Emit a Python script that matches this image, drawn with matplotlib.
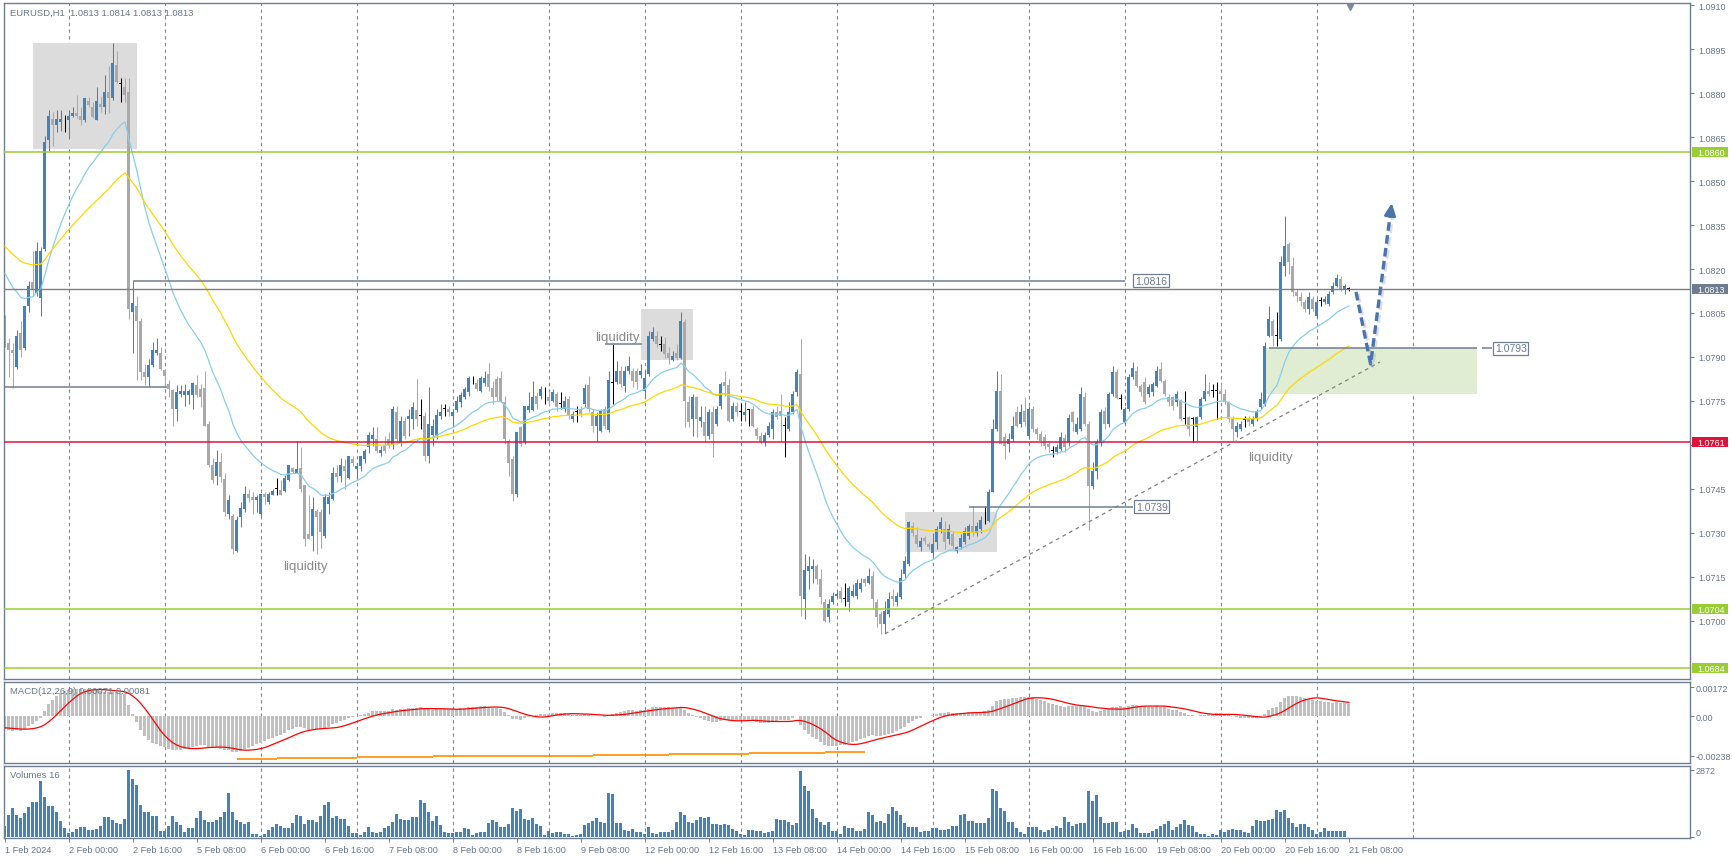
import numpy as np
import matplotlib
matplotlib.use("Agg")
import matplotlib.pyplot as plt
from matplotlib.patches import Rectangle
from matplotlib.transforms import IdentityTransform
import matplotlib.patheffects as pe

plt.rcParams['font.family'] = ['Liberation Sans', 'DejaVu Sans']

# EURUSD H1, bars from 1 Feb 2024 08:00 to 21 Feb 2024 08:00
opens = [
    1.08013, 1.07947, 1.07924, 1.07866, 1.07983, 1.07929, 1.08073, 1.08154, 1.08119, 1.08100,
    1.08269, 1.08641, 1.08713, 1.08690, 1.08701, 1.08703, 1.08709, 1.08721, 1.08732, 1.08721,
    1.08709, 1.08773, 1.08753, 1.08709, 1.08762, 1.08751, 1.08805, 1.08782, 1.08894, 1.08831,
    1.08820, 1.08805, 1.08053, 1.08073, 1.08021, 1.07849, 1.07832, 1.07872, 1.07912, 1.07912,
    1.07855, 1.07808, 1.07786, 1.07722, 1.07774, 1.07771, 1.07771, 1.07771, 1.07806, 1.07791,
    1.07795, 1.07673, 1.07532, 1.07495, 1.07541, 1.07484, 1.07365, 1.07359, 1.07238, 1.07353,
    1.07382, 1.07434, 1.07423, 1.07411, 1.07365, 1.07434, 1.07405, 1.07431, 1.07451, 1.07446,
    1.07442, 1.07482, 1.07520, 1.07503, 1.07520, 1.07463, 1.07296, 1.07290, 1.07376, 1.07371,
    1.07290, 1.07400, 1.07417, 1.07503, 1.07495, 1.07529, 1.07489, 1.07552, 1.07517, 1.07529,
    1.07552, 1.07592, 1.07620, 1.07622, 1.07571, 1.07597, 1.07622, 1.07600, 1.07711, 1.07606,
    1.07682, 1.07688, 1.07690, 1.07720, 1.07700, 1.07700, 1.07563, 1.07634, 1.07631, 1.07700,
    1.07722, 1.07722, 1.07700, 1.07720, 1.07745, 1.07762, 1.07779, 1.07813, 1.07811, 1.07785,
    1.07811, 1.07842, 1.07793, 1.07825, 1.07830, 1.07745, 1.07614, 1.07552, 1.07432, 1.07660,
    1.07609, 1.07720, 1.07720, 1.07768, 1.07768, 1.07762, 1.07765, 1.07750, 1.07774, 1.07739,
    1.07722, 1.07756, 1.07690, 1.07713, 1.07722, 1.07739, 1.07805, 1.07711, 1.07663, 1.07648,
    1.07722, 1.07652, 1.07811, 1.07813, 1.07853, 1.07802, 1.07853, 1.07853, 1.07853, 1.07838,
    1.07785, 1.07842, 1.07963, 1.07972, 1.07940, 1.07944, 1.07913, 1.07890, 1.07913, 1.07898,
    1.08018, 1.07745, 1.07688, 1.07762, 1.07683, 1.07677, 1.07631, 1.07711, 1.07671, 1.07734,
    1.07813, 1.07805, 1.07688, 1.07734, 1.07713, 1.07702, 1.07720, 1.07722, 1.07654, 1.07631,
    1.07609, 1.07634, 1.07654, 1.07711, 1.07717, 1.07665, 1.07654, 1.07711, 1.07780, 1.07842,
    1.07074, 1.07171, 1.07176, 1.07186, 1.07143, 1.07063, 1.07012, 1.07063, 1.07084, 1.07103,
    1.07074, 1.07063, 1.07086, 1.07086, 1.07108, 1.07143, 1.07131, 1.07154, 1.07063, 1.07023,
    1.06989, 1.07023, 1.07086, 1.07063, 1.07080, 1.07159, 1.07194, 1.07324, 1.07293, 1.07251,
    1.07282, 1.07262, 1.07233, 1.07268, 1.07313, 1.07313, 1.07279, 1.07296, 1.07239, 1.07251,
    1.07268, 1.07290, 1.07324, 1.07301, 1.07313, 1.07353, 1.07341, 1.07438, 1.07654, 1.07785,
    1.07626, 1.07603, 1.07622, 1.07711, 1.07671, 1.07717, 1.07632, 1.07723, 1.07654, 1.07637,
    1.07626, 1.07603, 1.07580, 1.07575, 1.07586, 1.07623, 1.07609, 1.07711, 1.07643, 1.07654,
    1.07762, 1.07671, 1.07461, 1.07512, 1.07609, 1.07717, 1.07671, 1.07774, 1.07850, 1.07757,
    1.07677, 1.07723, 1.07831, 1.07853, 1.07802, 1.07814, 1.07774, 1.07779, 1.07802, 1.07859,
    1.07819, 1.07762, 1.07762, 1.07745, 1.07751, 1.07690, 1.07694, 1.07690, 1.07660, 1.07694,
    1.07757, 1.07785, 1.07785, 1.07785, 1.07785, 1.07774, 1.07745, 1.07688, 1.07643, 1.07654,
    1.07686, 1.07688, 1.07671, 1.07688, 1.07728, 1.07740, 1.07973, 1.08024, 1.07973, 1.07961,
    1.08211, 1.08285, 1.08211, 1.08120, 1.08103, 1.08086, 1.08063, 1.08097, 1.08041, 1.08092,
    1.08086, 1.08080, 1.08120, 1.08143, 1.08166, 1.08131, 1.08131]
highs = [
    1.08044, 1.07964, 1.07947, 1.07993, 1.08021, 1.08073, 1.08160, 1.08263, 1.08292, 1.08275,
    1.08652, 1.08742, 1.08736, 1.08742, 1.08742, 1.08724, 1.08742, 1.08753, 1.08793, 1.08753,
    1.08782, 1.08788, 1.08770, 1.08820, 1.08788, 1.08862, 1.08891, 1.08972, 1.08943, 1.08851,
    1.08851, 1.08851, 1.08160, 1.08108, 1.08033, 1.07877, 1.07894, 1.07952, 1.07964, 1.07935,
    1.07860, 1.07820, 1.07791, 1.07803, 1.07803, 1.07808, 1.07790, 1.07814, 1.07840, 1.07808,
    1.07852, 1.07682, 1.07555, 1.07584, 1.07572, 1.07503, 1.07428, 1.07365, 1.07359, 1.07405,
    1.07461, 1.07451, 1.07438, 1.07428, 1.07434, 1.07440, 1.07440, 1.07451, 1.07486, 1.07482,
    1.07497, 1.07532, 1.07526, 1.07612, 1.07592, 1.07463, 1.07428, 1.07423, 1.07382, 1.07382,
    1.07434, 1.07438, 1.07526, 1.07532, 1.07555, 1.07552, 1.07563, 1.07563, 1.07540, 1.07563,
    1.07586, 1.07643, 1.07660, 1.07660, 1.07597, 1.07631, 1.07643, 1.07734, 1.07734, 1.07700,
    1.07694, 1.07722, 1.07745, 1.07825, 1.07756, 1.07711, 1.07796, 1.07688, 1.07722, 1.07739,
    1.07739, 1.07734, 1.07722, 1.07768, 1.07779, 1.07796, 1.07836, 1.07836, 1.07825, 1.07836,
    1.07853, 1.07880, 1.07819, 1.07836, 1.07853, 1.07768, 1.07620, 1.07563, 1.07643, 1.07665,
    1.07734, 1.07779, 1.07819, 1.07779, 1.07802, 1.07796, 1.07785, 1.07790, 1.07779, 1.07779,
    1.07768, 1.07768, 1.07717, 1.07734, 1.07734, 1.07808, 1.07836, 1.07722, 1.07711, 1.07722,
    1.07734, 1.07853, 1.07944, 1.07887, 1.07870, 1.07870, 1.07904, 1.07864, 1.07864, 1.07876,
    1.07853, 1.07990, 1.08002, 1.07990, 1.07972, 1.07967, 1.07933, 1.07921, 1.07944, 1.08052,
    1.08030, 1.07768, 1.07774, 1.07768, 1.07734, 1.07734, 1.07722, 1.07734, 1.07734, 1.07813,
    1.07853, 1.07825, 1.07745, 1.07745, 1.07742, 1.07745, 1.07722, 1.07734, 1.07660, 1.07643,
    1.07643, 1.07677, 1.07722, 1.07734, 1.07774, 1.07694, 1.07745, 1.07785, 1.07859, 1.07961,
    1.07228, 1.07222, 1.07211, 1.07194, 1.07176, 1.07074, 1.07074, 1.07097, 1.07103, 1.07114,
    1.07131, 1.07120, 1.07125, 1.07143, 1.07148, 1.07148, 1.07182, 1.07171, 1.07074, 1.07034,
    1.07069, 1.07097, 1.07108, 1.07097, 1.07176, 1.07222, 1.07341, 1.07336, 1.07319, 1.07285,
    1.07290, 1.07268, 1.07301, 1.07324, 1.07353, 1.07341, 1.07330, 1.07307, 1.07256, 1.07296,
    1.07319, 1.07330, 1.07393, 1.07336, 1.07359, 1.07393, 1.07450, 1.07688, 1.07853, 1.07842,
    1.07640, 1.07640, 1.07700, 1.07734, 1.07740, 1.07762, 1.07734, 1.07734, 1.07660, 1.07649,
    1.07637, 1.07615, 1.07597, 1.07603, 1.07643, 1.07637, 1.07705, 1.07717, 1.07694, 1.07796,
    1.07779, 1.07683, 1.07541, 1.07620, 1.07723, 1.07728, 1.07779, 1.07870, 1.07859, 1.07774,
    1.07728, 1.07842, 1.07882, 1.07870, 1.07808, 1.07831, 1.07808, 1.07814, 1.07870, 1.07882,
    1.07825, 1.07774, 1.07768, 1.07785, 1.07757, 1.07785, 1.07700, 1.07694, 1.07700, 1.07762,
    1.07842, 1.07814, 1.07808, 1.07814, 1.07808, 1.07791, 1.07751, 1.07700, 1.07677, 1.07683,
    1.07700, 1.07700, 1.07700, 1.07723, 1.07779, 1.07950, 1.08075, 1.08029, 1.08052, 1.08245,
    1.08382, 1.08291, 1.08240, 1.08131, 1.08120, 1.08097, 1.08120, 1.08109, 1.08097, 1.08103,
    1.08109, 1.08126, 1.08154, 1.08183, 1.08177, 1.08148, 1.08137]
lows = [
    1.07935, 1.07832, 1.07795, 1.07860, 1.07901, 1.07924, 1.08053, 1.08108, 1.08108, 1.08041,
    1.08261, 1.08601, 1.08621, 1.08667, 1.08672, 1.08667, 1.08644, 1.08718, 1.08716, 1.08690,
    1.08701, 1.08753, 1.08716, 1.08709, 1.08736, 1.08730, 1.08732, 1.08776, 1.08834, 1.08770,
    1.08770, 1.08030, 1.07912, 1.07820, 1.07820, 1.07803, 1.07797, 1.07866, 1.07906, 1.07855,
    1.07797, 1.07762, 1.07664, 1.07682, 1.07762, 1.07733, 1.07740, 1.07722, 1.07762, 1.07728,
    1.07664, 1.07526, 1.07469, 1.07463, 1.07474, 1.07359, 1.07348, 1.07227, 1.07235, 1.07319,
    1.07371, 1.07405, 1.07365, 1.07371, 1.07359, 1.07400, 1.07400, 1.07428, 1.07431, 1.07428,
    1.07440, 1.07478, 1.07503, 1.07503, 1.07440, 1.07255, 1.07278, 1.07238, 1.07227, 1.07250,
    1.07284, 1.07365, 1.07411, 1.07474, 1.07474, 1.07449, 1.07483, 1.07529, 1.07483, 1.07512,
    1.07540, 1.07574, 1.07597, 1.07574, 1.07563, 1.07574, 1.07591, 1.07586, 1.07603, 1.07597,
    1.07620, 1.07631, 1.07654, 1.07665, 1.07654, 1.07546, 1.07540, 1.07597, 1.07620, 1.07688,
    1.07700, 1.07700, 1.07660, 1.07711, 1.07731, 1.07756, 1.07768, 1.07808, 1.07785, 1.07779,
    1.07802, 1.07785, 1.07739, 1.07750, 1.07745, 1.07603, 1.07495, 1.07410, 1.07421, 1.07597,
    1.07603, 1.07711, 1.07717, 1.07722, 1.07756, 1.07739, 1.07734, 1.07745, 1.07717, 1.07722,
    1.07711, 1.07688, 1.07677, 1.07677, 1.07694, 1.07728, 1.07711, 1.07643, 1.07609, 1.07643,
    1.07654, 1.07643, 1.07739, 1.07808, 1.07796, 1.07779, 1.07842, 1.07796, 1.07790, 1.07830,
    1.07768, 1.07836, 1.07955, 1.07933, 1.07921, 1.07898, 1.07876, 1.07887, 1.07890, 1.07893,
    1.07660, 1.07660, 1.07631, 1.07626, 1.07660, 1.07609, 1.07620, 1.07558, 1.07665, 1.07722,
    1.07768, 1.07677, 1.07683, 1.07700, 1.07683, 1.07683, 1.07663, 1.07660, 1.07620, 1.07603,
    1.07597, 1.07626, 1.07620, 1.07688, 1.07609, 1.07558, 1.07648, 1.07705, 1.07768, 1.07017,
    1.07006, 1.07108, 1.07131, 1.07125, 1.07057, 1.06995, 1.06995, 1.07057, 1.07080, 1.07063,
    1.07052, 1.07034, 1.07080, 1.07074, 1.07097, 1.07120, 1.07125, 1.07040, 1.06978, 1.06955,
    1.06960, 1.07012, 1.07052, 1.07052, 1.07074, 1.07148, 1.07188, 1.07290, 1.07251, 1.07239,
    1.07262, 1.07245, 1.07222, 1.07245, 1.07301, 1.07245, 1.07262, 1.07245, 1.07233, 1.07245,
    1.07262, 1.07279, 1.07290, 1.07290, 1.07301, 1.07330, 1.07336, 1.07438, 1.07648, 1.07603,
    1.07552, 1.07575, 1.07609, 1.07660, 1.07660, 1.07666, 1.07620, 1.07643, 1.07620, 1.07597,
    1.07586, 1.07575, 1.07558, 1.07569, 1.07580, 1.07575, 1.07597, 1.07649, 1.07637, 1.07649,
    1.07666, 1.07310, 1.07450, 1.07484, 1.07597, 1.07654, 1.07660, 1.07768, 1.07757, 1.07723,
    1.07671, 1.07717, 1.07825, 1.07796, 1.07768, 1.07740, 1.07762, 1.07768, 1.07796, 1.07814,
    1.07768, 1.07734, 1.07720, 1.07734, 1.07683, 1.07671, 1.07632, 1.07609, 1.07615, 1.07688,
    1.07751, 1.07768, 1.07762, 1.07688, 1.07757, 1.07740, 1.07677, 1.07615, 1.07626, 1.07649,
    1.07660, 1.07666, 1.07666, 1.07683, 1.07723, 1.07734, 1.07967, 1.07939, 1.07939, 1.07956,
    1.08177, 1.08183, 1.08109, 1.08086, 1.08075, 1.08052, 1.08046, 1.08058, 1.08035, 1.08075,
    1.08080, 1.08075, 1.08114, 1.08137, 1.08126, 1.08114, 1.08126]
closes = [
    1.07947, 1.07924, 1.07912, 1.07972, 1.07924, 1.08073, 1.08142, 1.08131, 1.08261, 1.08261,
    1.08632, 1.08721, 1.08690, 1.08713, 1.08713, 1.08703, 1.08721, 1.08732, 1.08721, 1.08709,
    1.08782, 1.08759, 1.08718, 1.08773, 1.08751, 1.08805, 1.08782, 1.08903, 1.08839, 1.08831,
    1.08793, 1.08062, 1.08083, 1.08021, 1.07849, 1.07832, 1.07872, 1.07924, 1.07924, 1.07860,
    1.07834, 1.07791, 1.07722, 1.07780, 1.07783, 1.07783, 1.07783, 1.07811, 1.07771, 1.07762,
    1.07664, 1.07532, 1.07482, 1.07541, 1.07492, 1.07373, 1.07411, 1.07244, 1.07345, 1.07385,
    1.07434, 1.07419, 1.07411, 1.07423, 1.07434, 1.07423, 1.07434, 1.07442, 1.07451, 1.07431,
    1.07486, 1.07532, 1.07509, 1.07518, 1.07451, 1.07281, 1.07281, 1.07382, 1.07353, 1.07302,
    1.07423, 1.07423, 1.07503, 1.07492, 1.07532, 1.07512, 1.07563, 1.07540, 1.07529, 1.07563,
    1.07580, 1.07634, 1.07634, 1.07580, 1.07583, 1.07580, 1.07600, 1.07722, 1.07622, 1.07682,
    1.07631, 1.07700, 1.07731, 1.07690, 1.07700, 1.07563, 1.07671, 1.07665, 1.07702, 1.07711,
    1.07722, 1.07711, 1.07711, 1.07750, 1.07770, 1.07790, 1.07827, 1.07813, 1.07790, 1.07830,
    1.07830, 1.07796, 1.07762, 1.07762, 1.07745, 1.07620, 1.07540, 1.07432, 1.07643, 1.07603,
    1.07734, 1.07734, 1.07762, 1.07739, 1.07790, 1.07762, 1.07750, 1.07779, 1.07728, 1.07739,
    1.07750, 1.07700, 1.07705, 1.07713, 1.07705, 1.07793, 1.07722, 1.07663, 1.07700, 1.07717,
    1.07665, 1.07823, 1.07811, 1.07853, 1.07808, 1.07853, 1.07870, 1.07819, 1.07813, 1.07853,
    1.07830, 1.07972, 1.07985, 1.07944, 1.07940, 1.07910, 1.07898, 1.07904, 1.07898, 1.08024,
    1.07750, 1.07680, 1.07762, 1.07688, 1.07694, 1.07631, 1.07711, 1.07637, 1.07722, 1.07808,
    1.07802, 1.07683, 1.07734, 1.07711, 1.07713, 1.07711, 1.07720, 1.07665, 1.07631, 1.07609,
    1.07634, 1.07665, 1.07711, 1.07697, 1.07700, 1.07665, 1.07711, 1.07774, 1.07848, 1.07086,
    1.07174, 1.07188, 1.07188, 1.07143, 1.07080, 1.07000, 1.07057, 1.07086, 1.07091, 1.07074,
    1.07074, 1.07111, 1.07103, 1.07131, 1.07131, 1.07131, 1.07154, 1.07074, 1.07012, 1.06989,
    1.07034, 1.07074, 1.07074, 1.07086, 1.07148, 1.07205, 1.07336, 1.07301, 1.07262, 1.07274,
    1.07274, 1.07251, 1.07262, 1.07313, 1.07336, 1.07268, 1.07313, 1.07256, 1.07251, 1.07282,
    1.07307, 1.07324, 1.07301, 1.07324, 1.07344, 1.07353, 1.07438, 1.07654, 1.07785, 1.07603,
    1.07597, 1.07622, 1.07665, 1.07665, 1.07714, 1.07677, 1.07723, 1.07654, 1.07637, 1.07615,
    1.07597, 1.07592, 1.07580, 1.07592, 1.07626, 1.07592, 1.07691, 1.07677, 1.07671, 1.07774,
    1.07671, 1.07461, 1.07512, 1.07609, 1.07711, 1.07671, 1.07774, 1.07850, 1.07760, 1.07757,
    1.07723, 1.07831, 1.07861, 1.07802, 1.07779, 1.07745, 1.07796, 1.07808, 1.07853, 1.07819,
    1.07774, 1.07745, 1.07734, 1.07774, 1.07688, 1.07690, 1.07654, 1.07690, 1.07694, 1.07757,
    1.07785, 1.07774, 1.07785, 1.07785, 1.07774, 1.07745, 1.07688, 1.07654, 1.07666, 1.07671,
    1.07686, 1.07677, 1.07688, 1.07717, 1.07757, 1.07939, 1.08029, 1.07973, 1.07973, 1.08223,
    1.08279, 1.08223, 1.08120, 1.08109, 1.08092, 1.08063, 1.08103, 1.08063, 1.08086, 1.08092,
    1.08097, 1.08114, 1.08143, 1.08171, 1.08131, 1.08143, 1.08131]
volumes = [
    486, 943, 1243, 943, 800, 1029, 1300, 1486, 1486, 2386,
    1729, 1343, 1343, 1057, 700, 372, 171, 229, 343, 429,
    429, 300, 300, 343, 457, 843, 843, 743, 600, 572,
    772, 2872, 2486, 2243, 1372, 1057, 1057, 915, 886, 257,
    257, 486, 886, 657, 515, 229, 400, 400, 800, 1100,
    743, 629, 629, 743, 857, 1057, 1886, 1057, 743, 629,
    557, 629, 143, 143, 57, 143, 300, 429, 557, 457,
    400, 400, 600, 943, 915, 557, 743, 715, 629, 915,
    1372, 1486, 800, 915, 772, 772, 486, 171, 171, 86,
    229, 429, 200, 171, 200, 400, 486, 629, 986, 772,
    729, 729, 843, 843, 1586, 1443, 1086, 700, 915, 515,
    229, 171, 171, 200, 200, 386, 343, 100, 171, 200,
    229, 586, 743, 629, 414, 414, 557, 1243, 1129, 1200,
    772, 743, 815, 557, 457, 100, 243, 171, 229, 229,
    143, 129, 57, 100, 114, 515, 600, 700, 829, 629,
    600, 1886, 1843, 600, 600, 300, 272, 343, 200, 229,
    129, 414, 171, 129, 200, 200, 200, 300, 629, 1057,
    957, 657, 600, 743, 843, 815, 843, 557, 557, 515,
    557, 515, 343, 272, 129, 86, 300, 300, 272, 272,
    171, 200, 272, 772, 729, 729, 629, 515, 600, 2850,
    2200, 1986, 1200, 800, 629, 515, 629, 272, 272, 129,
    486, 372, 372, 272, 243, 343, 1057, 943, 657, 686,
    600, 986, 1272, 1129, 957, 600, 443, 443, 443, 229,
    243, 272, 372, 372, 314, 300, 343, 486, 486, 957,
    986, 700, 700, 600, 600, 600, 800, 2057, 1972, 1229,
    1129, 657, 657, 372, 200, 129, 443, 414, 414, 300,
    200, 300, 372, 486, 372, 843, 657, 486, 557, 600,
    600, 1986, 1557, 1800, 843, 600, 600, 657, 657, 229,
    272, 314, 557, 372, 171, 171, 165, 250, 357, 486,
    557, 700, 314, 414, 557, 743, 515, 486, 229, 129,
    129, 57, 129, 100, 300, 200, 314, 343, 314, 314,
    200, 171, 486, 743, 700, 700, 729, 772, 1172, 1057,
    1172, 800, 600, 429, 557, 557, 414, 314, 129, 200,
    386, 272, 243, 243, 272, 243, 16]

time_labels = ['1 Feb 2024', '2 Feb 00:00', '2 Feb 16:00', '5 Feb 08:00', '6 Feb 00:00',
               '6 Feb 16:00', '7 Feb 08:00', '8 Feb 00:00', '8 Feb 16:00', '9 Feb 08:00',
               '12 Feb 00:00', '12 Feb 16:00', '13 Feb 08:00', '14 Feb 00:00', '14 Feb 16:00',
               '15 Feb 08:00', '16 Feb 00:00', '16 Feb 16:00', '19 Feb 08:00', '20 Feb 00:00',
               '20 Feb 16:00', '21 Feb 08:00']

# orange step line in the MACD window: (from bar, to bar, value)
orange_from = [58, 68, 88, 107, 127, 147, 166, 186, 205]
orange_to = [68, 88, 107, 127, 147, 166, 186, 205, 215]
orange_val = [-0.00259, -0.00254, -0.00248, -0.00242, -0.00238, -0.00231, -0.00225, -0.00219, -0.00213]

# drawn objects (bar index / price anchors)
gray_boxes = [(7, 33, 1.08609, 1.08970), (159, 172, 1.07890, 1.08062), (225, 248, 1.07235, 1.07372)]
green_box = (315.25, 368, 1.07774, 1.07930)
hlevels_green = [1.0860, 1.0704, 1.0684]
hlevel_red = 1.0761
seg_lines = [(32, 280, 1.0816), (241, 282, 1.0739), (316, 368, 1.0793), (369.25, 371.75, 1.0793),
             (0, 40.5, 1.07799), (150, 159.25, 1.07944)]
seg_labels = [(282, 1.0816), (282.25, 1.0739), (372, 1.0793)]
trend_i = [220, 343.75]
trend_p = [1.06956, 1.07883]
arrow_i = [337.75, 341.4, 346.3]
arrow_p = [1.08122, 1.07876, 1.08384]
arrow_tip = (346.7, 1.08425)
liquidity_pos = [(75, 1.07187), (153, 1.07968), (316.25, 1.07559)]

n = len(closes)
assert len(opens) == len(highs) == len(lows) == len(volumes) == n
idx = np.arange(n)
o, h, l, c = map(np.array, (opens, highs, lows, closes))


def ema(values, period, start):
    k = 2.0 / (period + 1)
    out, e = [], start
    for v in values:
        e = e + k * (v - e)
        out.append(e)
    return np.array(out)


# indicators on the closes (EMA 20 / EMA 50, MACD 12,26,9)
ma_fast = ema(c, 20, 1.0821)
ma_slow = ema(c, 50, 1.0829)
macd_main = ema(c, 12, 1.0810) - ema(c, 26, 1.0817)
macd_signal = np.convolve(np.r_[np.full(8, -0.0007), macd_main], np.ones(9) / 9, mode='valid')

W, H = 1733, 862
fig = plt.figure(figsize=(W / 100, H / 100), dpi=100)
fig.patch.set_facecolor('white')


def rect(x0, y0, x1, y1):
    return [x0 / W, 1 - y1 / H, (x1 - x0) / W, (y1 - y0) / H]


ax = fig.add_axes(rect(4, 4, 1690, 680))
axm = fig.add_axes(rect(4, 683, 1690, 764), sharex=ax)
axv = fig.add_axes(rect(4, 767, 1690, 839), sharex=ax)

FRAME = '#6f7d8f'
TXT = '#66768a'
BLUE = '#4682B4'
GRAY = '#A9A9A9'

for a in (ax, axm, axv):
    for s in a.spines.values():
        s.set_color(FRAME)
        s.set_linewidth(1.0)
    a.yaxis.tick_right()
    a.tick_params(axis='y', direction='out', length=3, width=0.7, color=FRAME,
                  labelsize=6.5, labelcolor=TXT, pad=3)
    for g in range(16, 353, 24):
        a.axvline(g, color='#7a8596', lw=0.8, ls=(0, (3, 3)), zorder=0)

ax.set_xlim(-0.25, 421.25)
ax.set_ylim(1.06802, 1.09107)
axm.set_ylim(-0.002817, 0.002038)
axv.set_ylim(-43, 3043)

# background objects
for i0, i1, p0, p1 in gray_boxes:
    ax.add_patch(Rectangle((i0, p0), i1 - i0, p1 - p0, facecolor='#DCDCDC', edgecolor='none', zorder=0.5))
gi0, gi1, gp0, gp1 = green_box
ax.add_patch(Rectangle((gi0, gp0), gi1 - gi0, gp1 - gp0, facecolor='#E0EDD3', edgecolor='none', zorder=0.5))

# candles
cols = np.where(c > o, BLUE, np.where(c < o, GRAY, 'black'))
ax.vlines(idx, l, h, colors=cols, lw=0.75, zorder=2)
body = np.maximum(np.abs(c - o), 0.00003)
ax.bar(idx, body, bottom=np.minimum(o, c), width=0.75, color=cols, linewidth=0, zorder=2.5)

ax.plot(idx, ma_fast, color='#87CEEB', lw=0.9, zorder=3)
ax.plot(idx, ma_slow, color='#FFD700', lw=0.9, zorder=3)

# levels and lines
for p in hlevels_green:
    ax.axhline(p, color='#9ACD32', lw=1.1, zorder=4)
ax.axhline(hlevel_red, color='#DC143C', lw=1.1, zorder=4)
ax.axhline(c[-1], color='#7f7f7f', lw=1.0, zorder=4)
for i0, i1, p in seg_lines:
    ax.plot([i0, i1], [p, p], color='#6f7f90', lw=1.1, zorder=4, solid_capstyle='butt')
for i0, p in seg_labels:
    ax.text(i0 + 0.5, p, f'{p:.4f}', fontsize=7.5, color='#6a7a8e', va='center', ha='left', zorder=6,
            bbox=dict(boxstyle='square,pad=0.15', facecolor='white', edgecolor='#6f7f90', lw=0.9))
ax.plot(trend_i, trend_p, color='#808080', lw=0.9, ls=(0, (3, 3)), zorder=4)

for (li, lp) in liquidity_pos:
    ax.text(li, lp, 'liquidity', fontsize=9.5, color='#8a8a8a', ha='center', va='center', zorder=6)

# forecast arrow
ax.plot(arrow_i, arrow_p, color='#4a74ab', lw=2.4, dashes=(2.6, 1.3), zorder=7,
        solid_capstyle='butt', dash_capstyle='butt',
        path_effects=[pe.SimpleLineShadow(offset=(1.5, -1.5), shadow_color='#9aa5b5', alpha=0.35),
                      pe.Normal()])
ax.annotate('', xy=arrow_tip, xytext=(arrow_i[-1], arrow_p[-1]), zorder=7,
            arrowprops=dict(arrowstyle='-|>,head_length=0.6,head_width=0.28', color='#4a74ab',
                            lw=2.0, mutation_scale=12, shrinkA=0, shrinkB=0))
ax.plot([336.25], [1.09095], marker='v', ms=5, color='#7f8a99', zorder=7, clip_on=False)

# price scale; the 1.0760 label sits under the red 1.0761 box, so it is left blank
pticks = np.round(np.arange(1.0700, 1.09101, 0.0015), 4)
ax.set_yticks(pticks)
ax.set_yticklabels(['' if abs(v - 1.0760) < 1e-6 else f'{v:.4f}' for v in pticks])
ax.tick_params(axis='x', bottom=False, labelbottom=False)

# MACD window
axm.bar(idx, macd_main, width=0.75, color='#C0C0C0', linewidth=0, zorder=2)
axm.plot(idx, macd_signal, color='red', lw=0.9, zorder=3)
for a0, a1, v in zip(orange_from, orange_to, orange_val):
    axm.plot([a0, a1], [v, v], color='#FF8C00', lw=1.2, zorder=3, solid_capstyle='butt')
axm.set_yticks([-0.00238, 0.0, 0.00172])
axm.set_yticklabels(['-0.00238', '0.00', '0.00172'])
axm.tick_params(axis='y', pad=1)
axm.tick_params(axis='x', bottom=False, labelbottom=False)

# volumes window
axv.bar(idx, volumes, width=0.75, color=BLUE, linewidth=0, zorder=2)
axv.set_yticks([0, 2872])
axv.set_yticklabels(['0', '2872'])
axv.tick_params(axis='y', pad=1)
axv.get_yticklabels()[0].set_va('bottom')
axv.set_xticks(idx[::16])
axv.set_xticklabels(time_labels, ha='left')
axv.tick_params(axis='x', direction='out', length=3, width=0.7, color=FRAME,
                labelsize=6.6, labelcolor=TXT, pad=2)

# header texts
fig.text(10 / W, 1 - 13 / H, 'EURUSD,H1  1.0813 1.0814 1.0813 1.0813', fontsize=6.8, color=TXT,
         va='center', ha='left')
fig.text(10 / W, 1 - 692 / H, 'MACD(12,26,9) 0.00071 0.00081', fontsize=6.8, color=TXT,
         va='center', ha='left')
fig.text(10 / W, 1 - 776 / H, 'Volumes 16', fontsize=6.8, color=TXT, va='center', ha='left')


# coloured price boxes on the right scale
def price_box(value, text, face):
    x0 = ax.transAxes.transform((1, 0))[0]
    y = ax.transData.transform((0, value))[1]
    fig.add_artist(Rectangle((x0 + 2, y - 5), 36, 10, transform=IdentityTransform(),
                             facecolor=face, edgecolor='none', zorder=5))
    fig.text(x0 + 7, y - 0.5, text, transform=IdentityTransform(), fontsize=6.5, color='white',
             va='center', ha='left', zorder=6)


price_box(1.0860, '1.0860', '#9ACD32')
price_box(c[-1], f'{c[-1]:.4f}', '#6e7c8e')
price_box(hlevel_red, '1.0761', '#DC143C')
price_box(1.0704, '1.0704', '#9ACD32')
price_box(1.0684, '1.0684', '#9ACD32')

fig.savefig('out.png', dpi=100)
